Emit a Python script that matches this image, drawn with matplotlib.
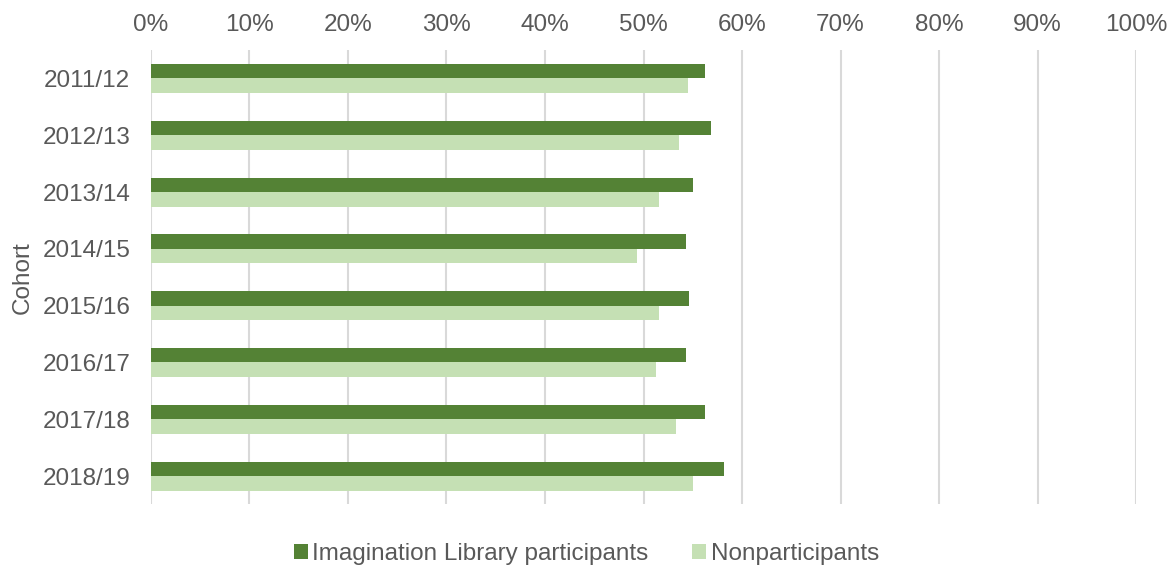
import numpy as np
import matplotlib.pyplot as plt
from matplotlib.ticker import PercentFormatter

plt.rcParams["font.family"] = ["Liberation Sans", "DejaVu Sans"]

cohorts = ["2011/12", "2012/13", "2013/14", "2014/15",
           "2015/16", "2016/17", "2017/18", "2018/19"]
participants = [56.2, 56.9, 55.05, 54.3, 54.6, 54.3, 56.2, 58.2]
nonparticipants = [54.5, 53.6, 51.6, 49.3, 51.6, 51.3, 53.3, 55.0]

DARK = "#548235"
LIGHT = "#C5E0B4"
TEXT = "#595959"
FS = 17.5

fig = plt.figure(figsize=(11.73, 5.69), dpi=100)
ax = fig.add_axes([0.1287, 0.1134, 0.8398, 0.7986])

y = np.arange(len(cohorts))
h = 0.255
ax.barh(y - h / 2, participants, height=h, color=DARK,
        label="Imagination Library participants", zorder=3)
ax.barh(y + h / 2, nonparticipants, height=h, color=LIGHT,
        label="Nonparticipants", zorder=3)

ax.set_xlim(0, 100)
ax.set_ylim(len(cohorts) - 0.5, -0.5)
ax.set_xticks(np.arange(0, 101, 10))
ax.xaxis.set_major_formatter(PercentFormatter(decimals=0))
ax.xaxis.tick_top()
ax.set_yticks(y)
ax.set_yticklabels(cohorts)
ax.tick_params(axis="both", length=0, labelsize=FS, labelcolor=TEXT)
ax.tick_params(axis="x", pad=10)
ax.tick_params(axis="y", pad=15)
ax.grid(axis="x", color="#D9D9D9", linewidth=1.5, zorder=0)
for s in ax.spines.values():
    s.set_visible(False)

ax.set_ylabel("Cohort", fontsize=FS, color=TEXT, labelpad=6)

fig.legend(loc="lower center", bbox_to_anchor=(0.5, -0.032), ncol=2,
           frameon=False, fontsize=FS, labelcolor=TEXT,
           handlelength=0.55, handleheight=0.55, handletextpad=0.2,
           columnspacing=1.8)

fig.savefig("out.png", dpi=100)
